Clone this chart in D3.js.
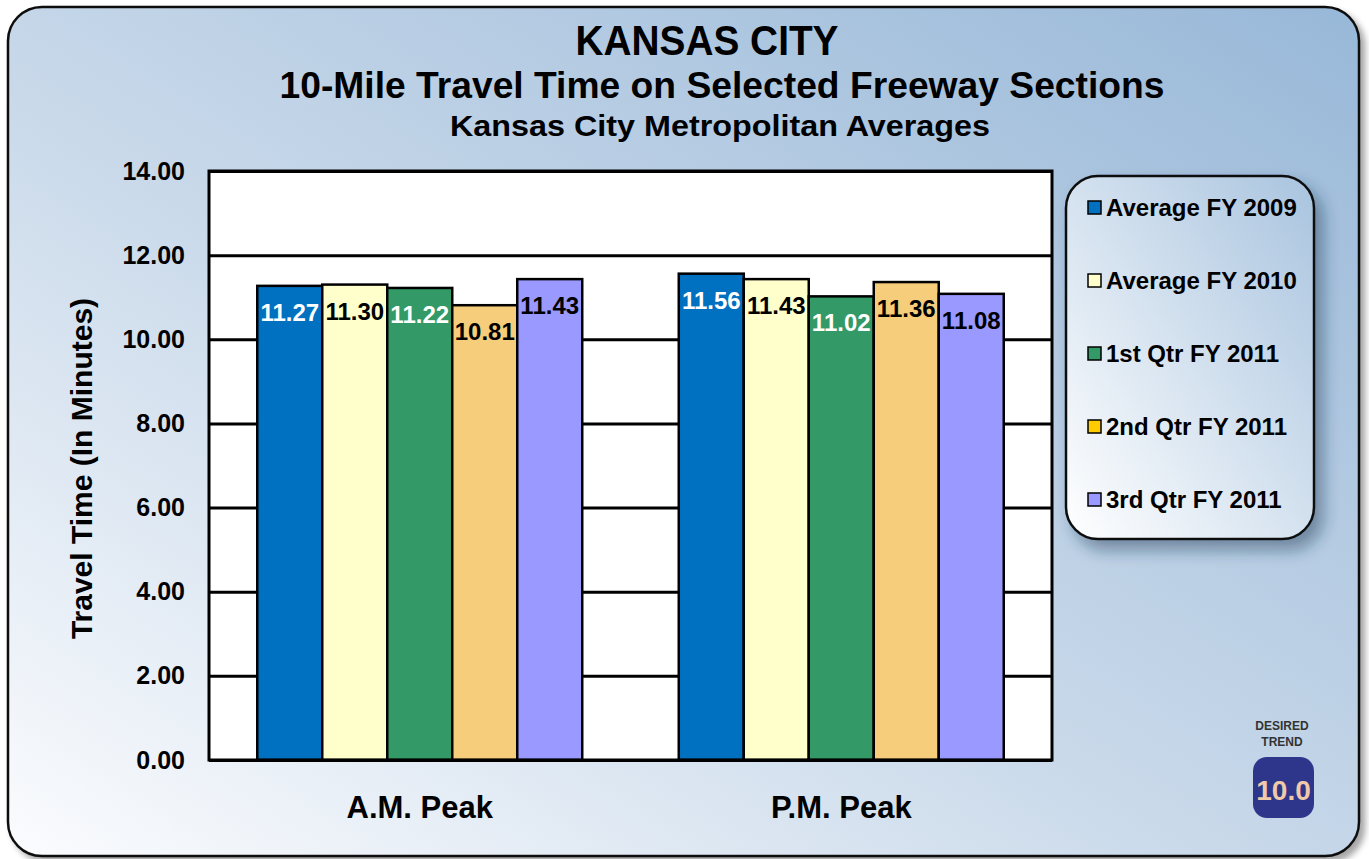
<!DOCTYPE html>
<html>
<head>
<meta charset="utf-8">
<script src="https://cdn.jsdelivr.net/npm/d3@7"></script>
<style>
  html, body { margin: 0; padding: 0; background: #ffffff; }
  svg text { font-family: "Liberation Sans", Arial, sans-serif; font-weight: bold; }
</style>
</head>
<body>
<div id="chart"></div>
<script>

// data
var categories = ['A.M. Peak', 'P.M. Peak'];
var seriesNames = ['Average FY 2009', 'Average FY 2010', '1st Qtr FY 2011', '2nd Qtr FY 2011', '3rd Qtr FY 2011'];
var amValues = [11.27, 11.30, 11.22, 10.81, 11.43];
var pmValues = [11.56, 11.43, 11.02, 11.36, 11.08];
var yTicks = [0, 2, 4, 6, 8, 10, 12, 14];

var barColors = ['#0070c0', '#ffffcc', '#339966', '#f6cd7a', '#9999ff'];
var legendColors = ['#0070c0', '#ffffcc', '#339966', '#ffcc00', '#9999ff'];
var labelColors = ['#ffffff', '#000000', '#ffffff', '#000000', '#000000'];

var width = 1369,
	height = 859,
	plot = { left: 209, right: 1052, top: 171, bottom: 760 };

var rows = categories.map(function(c, i){
	var vals = i === 0 ? amValues : pmValues;
	return { cat: c, values: vals.map(function(v, j){ return { name: seriesNames[j], value: v, idx: j }; }) };
});

var svg = d3.select('#chart')
	.append('svg')
	.attr('width', width)
	.attr('height', height);

var defs = svg.append('defs');

var bg = defs.append('linearGradient').attr('id', 'bg')
	.attr('x1', '0%').attr('y1', '100%').attr('x2', '100%').attr('y2', '0%');
bg.append('stop').attr('offset', '0%').attr('stop-color', '#fbfcfe');
bg.append('stop').attr('offset', '45%').attr('stop-color', '#c9d9ea');
bg.append('stop').attr('offset', '100%').attr('stop-color', '#98b8d8');

var lg = defs.append('linearGradient').attr('id', 'lg')
	.attr('x1', '0%').attr('y1', '100%').attr('x2', '100%').attr('y2', '0%');
lg.append('stop').attr('offset', '0%').attr('stop-color', '#ffffff');
lg.append('stop').attr('offset', '100%').attr('stop-color', '#a9c4df');

var sh = defs.append('filter').attr('id', 'shadow')
	.attr('x', '-5%').attr('y', '-5%').attr('width', '115%').attr('height', '115%');
sh.append('feDropShadow').attr('dx', 5).attr('dy', 5).attr('stdDeviation', 3)
	.attr('flood-color', '#000').attr('flood-opacity', 0.35);

var sh2 = defs.append('filter').attr('id', 'shadow2')
	.attr('x', '-10%').attr('y', '-10%').attr('width', '130%').attr('height', '130%');
sh2.append('feDropShadow').attr('dx', 8).attr('dy', 10).attr('stdDeviation', 8)
	.attr('flood-color', '#1a3050').attr('flood-opacity', 0.45);

// outer frame
svg.append('rect')
	.attr('x', 8).attr('y', 7)
	.attr('width', 1351).attr('height', 849)
	.attr('rx', 34).attr('ry', 34)
	.attr('fill', 'url(#bg)')
	.attr('stroke', '#111')
	.attr('stroke-width', 2.5)
	.attr('filter', 'url(#shadow)');

// titles
svg.append('text').attr('x', 707).attr('y', 55)
	.attr('text-anchor', 'middle').attr('font-size', 42)
	.attr('textLength', 263).attr('lengthAdjust', 'spacingAndGlyphs')
	.text('KANSAS CITY');
svg.append('text').attr('x', 722).attr('y', 98)
	.attr('text-anchor', 'middle').attr('font-size', 37)
	.attr('textLength', 885).attr('lengthAdjust', 'spacingAndGlyphs')
	.text('10-Mile Travel Time on Selected Freeway Sections');
svg.append('text').attr('x', 720).attr('y', 136)
	.attr('text-anchor', 'middle').attr('font-size', 30)
	.attr('textLength', 540).attr('lengthAdjust', 'spacingAndGlyphs')
	.text('Kansas City Metropolitan Averages');

// scales
var y = d3.scaleLinear().domain([0, 14]).range([plot.bottom, plot.top]);
var x0 = d3.scaleBand().domain(categories).range([plot.left, plot.right])
	.paddingInner(0.229).paddingOuter(0.1145);
var x1 = d3.scaleBand().domain(seriesNames).range([0, x0.bandwidth()]);

// plot area
svg.append('rect')
	.attr('x', plot.left).attr('y', plot.top)
	.attr('width', plot.right - plot.left).attr('height', plot.bottom - plot.top)
	.attr('fill', '#ffffff');

// gridlines
svg.append('g')
	.attr('transform', 'translate(' + plot.left + ',0)')
	.call(d3.axisLeft(y).tickValues(yTicks).tickSize(-(plot.right - plot.left)).tickFormat(''))
	.call(function(g){
		g.select('.domain').remove();
		g.selectAll('line').attr('stroke', '#000').attr('stroke-width', 3);
	});

// bars
var groups = svg.selectAll('g.grp')
	.data(rows)
	.enter()
	.append('g')
	.attr('class', 'grp')
	.attr('transform', function(d){ return 'translate(' + x0(d.cat) + ',0)'; });

groups.selectAll('rect')
	.data(function(d){ return d.values; })
	.enter()
	.append('rect')
	.attr('x', function(d){ return x1(d.name); })
	.attr('y', function(d){ return y(d.value); })
	.attr('width', x1.bandwidth())
	.attr('height', function(d){ return y(0) - y(d.value); })
	.attr('fill', function(d){ return barColors[d.idx]; })
	.attr('stroke', '#000')
	.attr('stroke-width', 2.5);

groups.selectAll('text.lbl')
	.data(function(d){ return d.values; })
	.enter()
	.append('text')
	.attr('class', 'lbl')
	.attr('x', function(d){ return x1(d.name) + x1.bandwidth() / 2; })
	.attr('y', function(d){ return y(d.value) + 35; })
	.attr('text-anchor', 'middle')
	.attr('font-size', 24)
	.attr('fill', function(d){ return labelColors[d.idx]; })
	.text(function(d){ return d.value.toFixed(2); });

// plot border
svg.append('rect')
	.attr('x', plot.left).attr('y', plot.top)
	.attr('width', plot.right - plot.left).attr('height', plot.bottom - plot.top)
	.attr('fill', 'none').attr('stroke', '#000').attr('stroke-width', 3);

// y axis labels
svg.append('g')
	.attr('transform', 'translate(' + (plot.left - 24) + ',0)')
	.call(d3.axisLeft(y).tickValues(yTicks).tickSize(0).tickFormat(d3.format('.2f')))
	.call(function(g){
		g.select('.domain').remove();
		g.selectAll('text')
			.attr('font-family', '"Liberation Sans", Arial, sans-serif')
			.attr('font-weight', 'bold')
			.attr('font-size', 25)
			.attr('fill', '#000')
			.attr('x', 0);
	});

svg.append('text')
	.attr('transform', 'translate(92,' + ((plot.top + plot.bottom) / 2 + 3) + ') rotate(-90)')
	.attr('text-anchor', 'middle')
	.attr('font-size', 30)
	.text('Travel Time (In Minutes)');

// x axis labels
svg.append('g')
	.attr('transform', 'translate(0,' + plot.bottom + ')')
	.call(d3.axisBottom(x0).tickSize(0))
	.call(function(g){
		g.select('.domain').remove();
		g.selectAll('text')
			.attr('font-family', '"Liberation Sans", Arial, sans-serif')
			.attr('font-weight', 'bold')
			.attr('font-size', 31)
			.attr('fill', '#000')
			.attr('dy', 0)
			.attr('y', 58);
	});

// legend
var legend = svg.append('g');
legend.append('rect')
	.attr('x', 1066).attr('y', 176)
	.attr('width', 248).attr('height', 363)
	.attr('rx', 32).attr('ry', 32)
	.attr('fill', 'url(#lg)')
	.attr('stroke', '#111').attr('stroke-width', 2.5)
	.attr('filter', 'url(#shadow2)');

var items = legend.selectAll('g.item')
	.data(seriesNames)
	.enter()
	.append('g')
	.attr('class', 'item')
	.attr('transform', function(d, i){ return 'translate(1088,' + (208 + i * 73) + ')'; });

items.append('rect')
	.attr('x', 0).attr('y', -7)
	.attr('width', 13).attr('height', 13)
	.attr('fill', function(d, i){ return legendColors[i]; })
	.attr('stroke', '#000').attr('stroke-width', 1.5);

items.append('text')
	.attr('x', 18).attr('y', 8)
	.attr('font-size', 24)
	.text(function(d){ return d; });

// desired trend badge
svg.append('text').attr('x', 1282).attr('y', 730)
	.attr('text-anchor', 'middle').attr('font-size', 12).attr('fill', '#333')
	.text('DESIRED');
svg.append('text').attr('x', 1282).attr('y', 746)
	.attr('text-anchor', 'middle').attr('font-size', 12).attr('fill', '#333')
	.text('TREND');
svg.append('rect')
	.attr('x', 1253).attr('y', 757)
	.attr('width', 61).attr('height', 61)
	.attr('rx', 14).attr('ry', 14)
	.attr('fill', '#2e368c');
svg.append('text').attr('x', 1283.5).attr('y', 800)
	.attr('text-anchor', 'middle').attr('font-size', 28).attr('fill', '#f0c9a8')
	.text('10.0');

</script>
</body>
</html>
